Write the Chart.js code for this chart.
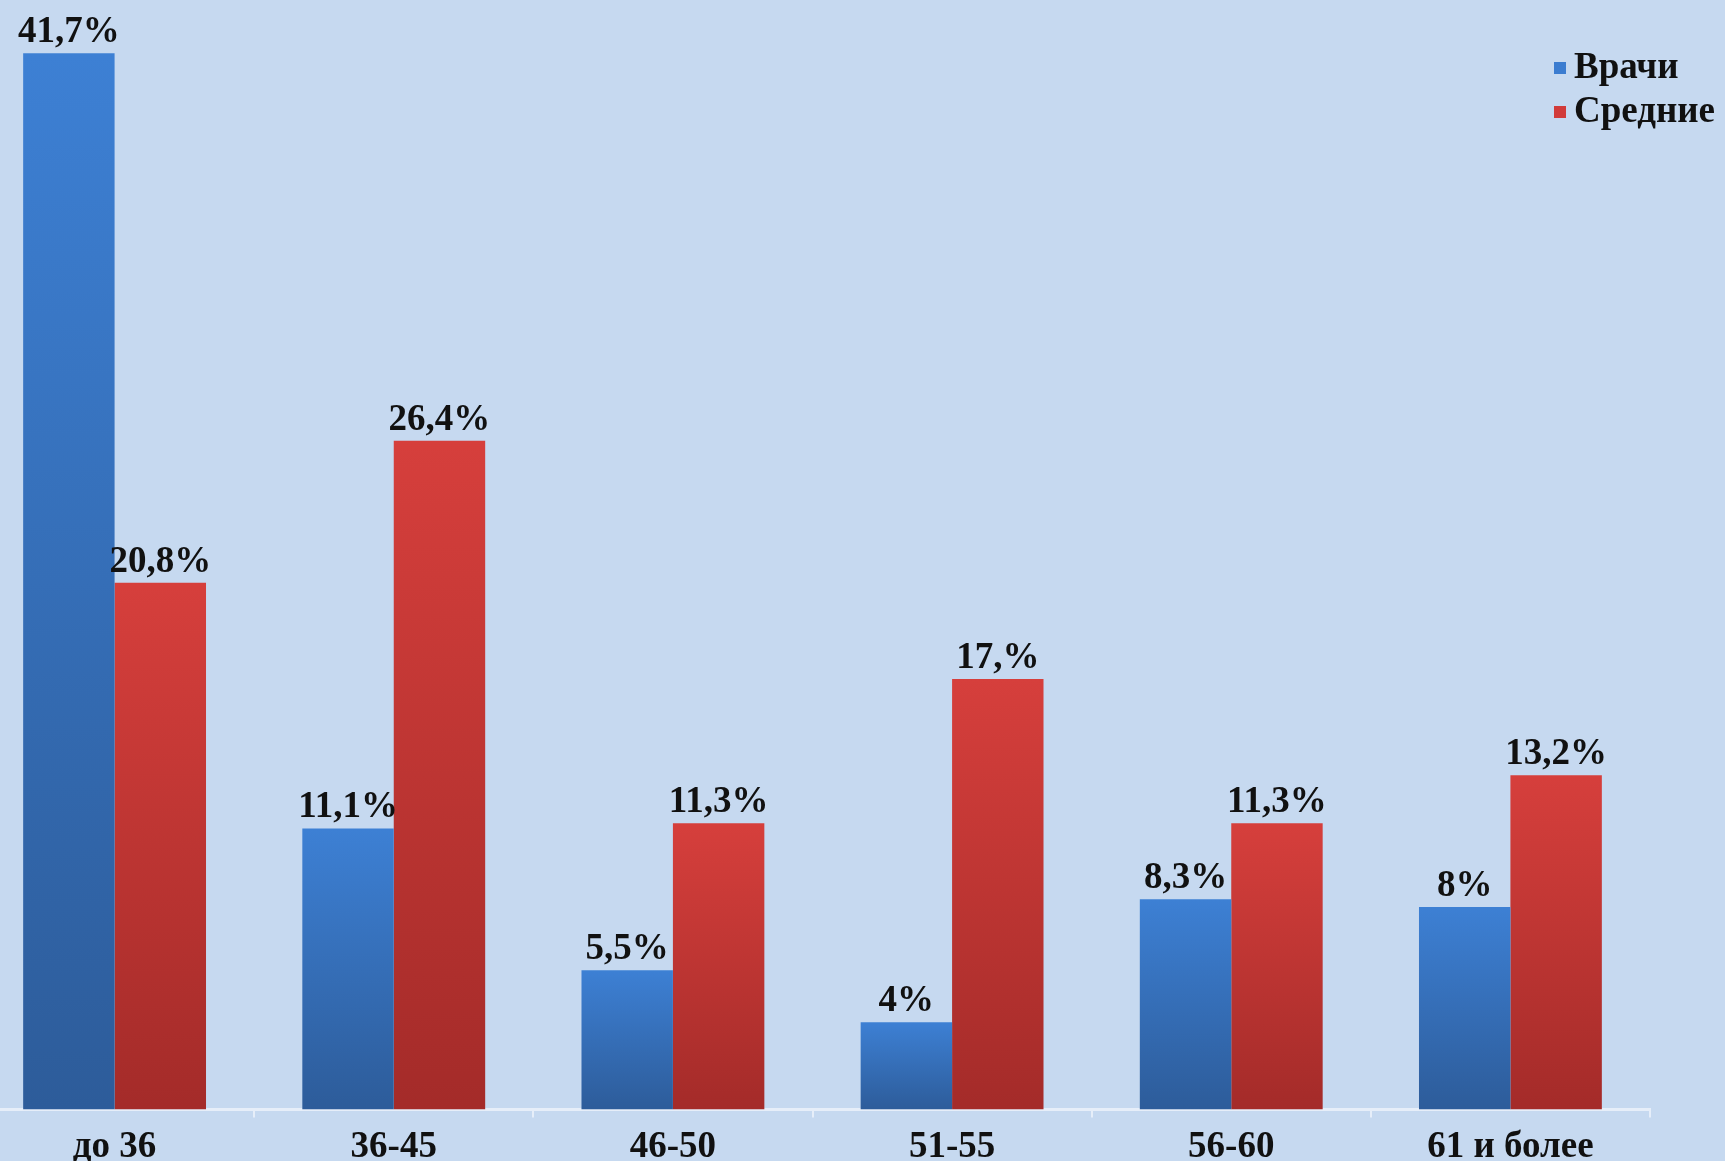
<!DOCTYPE html>
<html>
<head>
<meta charset="utf-8">
<script src="https://cdn.jsdelivr.net/npm/chart.js@4"></script>
<style>
    html, body {
        margin: 0;
        padding: 0;
        width: 1725px;
        height: 1161px;
        overflow: hidden;
        background: #c6d9f0;
    }
    #wrap {
        position: absolute;
        left: -25px;
        top: 0;
        width: 1750px;
        height: 1178px;
    }
</style>
</head>
<body>
<div id="wrap"><canvas id="ageChart"></canvas></div>
<script>
// Age groups
const categories = ['до 36', '36-45', '46-50', '51-55', '56-60', '61 и более'];

// Series values (%), bar heights as drawn in the picture
const doctors = [41.7, 11.1, 5.5, 3.45, 8.3, 8];
const nurses = [20.8, 26.4, 11.3, 17, 11.3, 13.2];

// Value labels as printed on the chart
const doctorLabels = ['41,7%', '11,1%', '5,5%', '4%', '8,3%', '8%'];
const nurseLabels = ['20,8%', '26,4%', '11,3%', '17,%', '11,3%', '13,2%'];

const seriesNames = ['Врачи', 'Средние'];

const FAMILY = '"Liberation Serif", Tinos, "Times New Roman", Times, "DejaVu Serif", "Noto Serif", serif';
const FONT = 'bold 37px ' + FAMILY;

// Per-bar vertical gradient, lighter at the top
function barGradient(context, top, bottom) {
    const chart = context.chart;
    const y = chart.scales.y;
    if (!y || context.raw === undefined) return top;
    const yTop = y.getPixelForValue(context.raw);
    const yBase = y.getPixelForValue(0);
    if (!isFinite(yTop) || !isFinite(yBase) || yTop === yBase) return top;
    const g = chart.ctx.createLinearGradient(0, yTop, 0, yBase);
    g.addColorStop(0, top);
    g.addColorStop(1, bottom);
    return g;
}

// Draws value labels above bars
const valueLabels = {
    id: 'valueLabels',
    afterDatasetsDraw(chart) {
        const ctx = chart.ctx;
        const labelSets = [doctorLabels, nurseLabels];
        ctx.save();
        ctx.font = FONT;
        ctx.fillStyle = '#111';
        ctx.textAlign = 'center';
        ctx.textBaseline = 'bottom';
        chart.data.datasets.forEach((ds, i) => {
            chart.getDatasetMeta(i).data.forEach((bar, j) => {
                ctx.fillText(labelSets[i][j], bar.x, bar.y - 2);
            });
        });
        ctx.restore();
    }
};

// Legend in the top right corner
const cornerLegend = {
    id: 'cornerLegend',
    afterDraw(chart) {
        const ctx = chart.ctx;
        ctx.save();
        ctx.font = FONT;
        ctx.textBaseline = 'middle';
        ctx.textAlign = 'left';
        const x = 1579;
        const rows = [68, 112];
        chart.data.datasets.forEach((ds, i) => {
            ctx.fillStyle = ds.legendColor;
            ctx.fillRect(x, rows[i] - 6, 12, 12);
            ctx.fillStyle = '#111';
            ctx.fillText(ds.label, x + 20, rows[i]);
        });
        ctx.restore();
    }
};

const ctx = document.getElementById('ageChart').getContext('2d');

new Chart(ctx, {
    type: 'bar',
    data: {
        labels: categories,
        datasets: [{
            label: seriesNames[0],
            data: doctors,
            legendColor: '#3b7cd0',
            backgroundColor: c => barGradient(c, '#3d80d4', '#2d5c9a')
        }, {
            label: seriesNames[1],
            data: nurses,
            legendColor: '#d13b3a',
            backgroundColor: c => barGradient(c, '#d63f3c', '#a42b29')
        }]
    },
    options: {
        responsive: true,
        maintainAspectRatio: false,
        animation: false,
        devicePixelRatio: 1,
        layout: {
            padding: { left: 0, right: 75, top: 0, bottom: 0 }
        },
        datasets: {
            bar: {
                barPercentage: 1,
                categoryPercentage: 0.655
            }
        },
        plugins: {
            legend: { display: false },
            tooltip: { enabled: false }
        },
        scales: {
            x: {
                grid: {
                    display: true,
                    drawOnChartArea: false,
                    color: '#e6eef9',
                    lineWidth: 2,
                    tickLength: 8
                },
                border: {
                    color: '#e6eef9',
                    width: 3
                },
                ticks: {
                    color: '#111',
                    padding: 8,
                    font: {
                        family: FAMILY,
                        size: 37,
                        weight: 'bold'
                    }
                }
            },
            y: {
                display: false,
                min: 0,
                max: 43.8
            }
        }
    },
    plugins: [valueLabels, cornerLegend]
});
</script>
</body>
</html>
